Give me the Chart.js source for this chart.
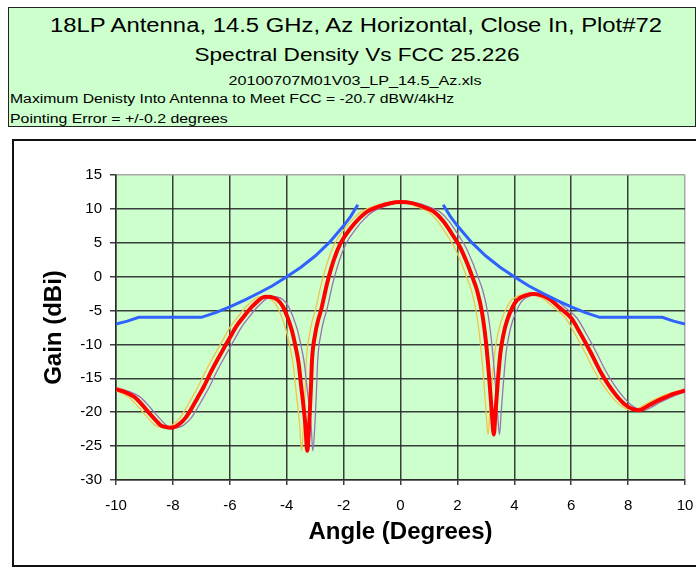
<!DOCTYPE html>
<html>
<head>
<meta charset="utf-8">
<script src="https://cdn.jsdelivr.net/npm/chart.js@4"></script>
<style>
  html, body { margin: 0; padding: 0; background: #fff; width: 696px; height: 569px; overflow: hidden; }
  body { position: relative; font-family: "Liberation Sans", Arial, sans-serif; color: #000; }
  #head { position: absolute; left: 8px; top: 7px; width: 688px; height: 120px; box-sizing: border-box;
          border: 1.5px solid #222; background: #ccffcc; }
  .ln { position: absolute; white-space: nowrap; line-height: 1; }
  .c { transform-origin: 50% 50%; }
  .l { transform-origin: 0 50%; }
  #box { position: absolute; left: 12px; top: 139px; width: 700px; height: 428px; box-sizing: border-box;
         border: 2px solid #111; background: #fff; }
  #cv { position: absolute; left: 0; top: 0; }
</style>
</head>
<body>
<div id="head"></div>
<div class="ln c" style="font-size:19.5px; left:355.5px; top:15.5px; transform: translateX(-50%) scaleX(1.223);">18LP Antenna, 14.5 GHz, Az Horizontal, Close In, Plot#72</div>
<div class="ln c" style="font-size:17.5px; left:357px; top:47.2px; transform: translateX(-50%) scaleX(1.29);">Spectral Density Vs FCC 25.226</div>
<div class="ln c" style="font-size:12px; left:355px; top:74.8px; transform: translateX(-50%) scaleX(1.345);">20100707M01V03_LP_14.5_Az.xls</div>
<div class="ln l" style="font-size:12.5px; left:10px; top:92.7px; transform: scaleX(1.26);">Maximum Denisty Into Antenna to Meet FCC = -20.7 dBW/4kHz</div>
<div class="ln l" style="font-size:13px; left:10px; top:111.7px; transform: scaleX(1.22);">Pointing Error = +/-0.2 degrees</div>
<div id="box"></div>
<canvas id="cv" width="696" height="569"></canvas>
<script>
// Measured pattern, 14.5 GHz azimuth cut
const angleDeg = [
  -10.0, -9.7, -9.37, -9.1, -8.84, -8.6, -8.44, -8.25, -8.08, -7.9,
  -7.73, -7.55, -7.38, -7.15, -6.91, -6.68, -6.44, -6.2, -5.98, -5.75,
  -5.51, -5.28, -5.04, -4.9, -4.75, -4.55, -4.33, -4.15, -3.98, -3.82,
  -3.69, -3.58, -3.49, -3.40, -3.34, -3.28, -3.20, -3.15, -3.11, -3.00,
  -2.90, -2.79, -2.58, -2.34, -2.11, -1.76, -1.45, -1.17, -0.8, -0.4,
  0.0, 0.4, 0.8, 1.17, 1.5, 1.87, 2.1, 2.34, 2.52, 2.69,
  2.87, 3.00, 3.10, 3.20, 3.28, 3.34, 3.42, 3.51, 3.62, 3.75,
  3.95, 4.1, 4.4, 4.7, 5.0, 5.3, 5.6, 6.0, 6.3, 6.7,
  7.0, 7.3, 7.6, 7.9, 8.2, 8.4, 8.6, 8.9, 9.2, 9.6, 10.0
];
const gainDbi = [
  -16.6, -17.0, -17.7, -18.8, -20.1, -21.2, -21.9, -22.2, -22.3, -22.1,
  -21.6, -20.8, -19.7, -18.0, -16.2, -14.2, -12.3, -10.5, -8.85, -7.2,
  -5.9, -4.7, -3.7, -3.2, -2.95, -3.0, -3.4, -4.3, -5.9, -7.9,
  -10.3, -12.8, -16.2, -19.5, -22.1, -25.7, -21.1, -16.5, -12.3, -8.5,
  -6.5, -4.9, -1.0, 2.5, 4.9, 7.1, 8.6, 9.6, 10.3, 10.8,
  11.0, 10.85, 10.3, 9.6, 8.2, 5.9, 4.3, 2.0, 0.0, -2.0,
  -5.4, -9.5, -14.0, -19.5, -23.3, -20.0, -15.5, -11.3, -8.5, -6.4,
  -4.4, -3.45, -2.75, -2.55, -2.8, -3.5, -4.6, -6.1, -8.2, -11.3,
  -13.8, -15.9, -17.6, -18.9, -19.6, -19.7, -19.3, -18.6, -18.0, -17.3, -16.8
];

// FCC 25.226 envelope scaled to the input density limit (gap around boresight)
const maskAngleDeg = [
  -10, -9.6, -9.2, -7.0, -6.5, -6.0, -5.5, -5.0, -4.5, -4.0, -3.5, -3.0, -2.5, -2.0, -1.75, -1.5,
  0,
  1.5, 1.75, 2.0, 2.5, 3.0, 3.5, 4.0, 4.5, 5.0, 5.5, 6.0, 6.5, 7.0, 9.2, 9.6, 10
];
const maskGainDbi = [
  -7.0, -6.56, -6.0, -6.0, -5.3, -4.45, -3.5, -2.45, -1.35, 0.0, 1.4, 3.05, 5.05, 7.5, 8.9, 10.6,
  null,
  10.6, 8.9, 7.5, 5.05, 3.05, 1.4, 0.0, -1.35, -2.45, -3.5, -4.45, -5.3, -6.0, -6.0, -6.56, -7.0
];

// Pointing error applied to the measured pattern
const pointingErrorDeg = 0.2;

const xTicks = [-10, -8, -6, -4, -2, 0, 2, 4, 6, 8, 10];
const yTicks = [15, 10, 5, 0, -5, -10, -15, -20, -25, -30];

const pts = (xs, ys, dx = 0) => xs.map((x, i) => ({ x: x + dx, y: ys[i] }));

const plotBg = {
  id: 'plotBg',
  beforeDraw(chart) {
    const { ctx, chartArea: a } = chart;
    ctx.save();
    ctx.fillStyle = '#ccffcc';
    ctx.fillRect(a.left, a.top, a.right - a.left, a.bottom - a.top);
    ctx.restore();
  }
};

const gridDark = 'rgba(40,40,40,0.9)';
const gridLight = '#a8a8a8';

new Chart(document.getElementById('cv'), {
  type: 'scatter',
  data: {
    datasets: [
      { label: 'FCC 25.226', data: pts(maskAngleDeg, maskGainDbi), showLine: true, spanGaps: false,
        borderColor: '#2f62ff', borderWidth: 3, pointRadius: 0, order: 0 },
      { label: 'Measured', data: pts(angleDeg, gainDbi), showLine: true,
        borderColor: '#ff0000', borderWidth: 4, pointRadius: 0, cubicInterpolationMode: 'monotone', order: 1 },
      { label: '+0.2 deg', data: pts(angleDeg, gainDbi, pointingErrorDeg), showLine: true,
        borderColor: '#9a72b4', borderWidth: 1.3, pointRadius: 0, cubicInterpolationMode: 'monotone', order: 2 },
      { label: '-0.2 deg', data: pts(angleDeg, gainDbi, -pointingErrorDeg), showLine: true,
        borderColor: '#f2c44a', borderWidth: 1.3, pointRadius: 0, cubicInterpolationMode: 'monotone', order: 3 }
    ]
  },
  options: {
    responsive: false,
    animation: false,
    layout: { padding: { left: 0, right: 11, top: 175, bottom: 0 } },
    plugins: { legend: { display: false }, tooltip: { enabled: false }, title: { display: false } },
    scales: {
      x: {
        type: 'linear', min: -10, max: 10,
        afterFit: s => { s.height = 89; s.paddingLeft = 0; s.paddingRight = 0; },
        afterBuildTicks: s => { s.ticks = xTicks.map(v => ({ value: v })); },
        ticks: { color: '#000', font: { family: 'Liberation Sans', size: 15 }, padding: 12, maxRotation: 0 },
        grid: { color: c => (c.tick && c.tick.value === 10 ? gridLight : gridDark), lineWidth: 1.5,
                tickLength: 5, tickColor: gridDark },
        border: { display: true, color: gridDark, width: 1.5 },
        title: { display: true, text: 'Angle (Degrees)', color: '#000',
                 font: { family: 'Liberation Sans', size: 24, weight: 'bold' }, padding: { top: 0, bottom: 22 } }
      },
      y: {
        type: 'linear', min: -30, max: 15,
        afterFit: s => { s.width = 116; s.paddingTop = 0; s.paddingBottom = 0; },
        afterBuildTicks: s => { s.ticks = yTicks.map(v => ({ value: v })); },
        ticks: { color: '#000', font: { family: 'Liberation Sans', size: 15 }, padding: 8 },
        grid: { color: c => (c.tick && c.tick.value === 15 ? gridLight : gridDark), lineWidth: 1.5,
                tickLength: 6, tickColor: gridDark },
        border: { display: true, color: gridDark, width: 1.5 },
        title: { display: true, text: 'Gain (dBi)', color: '#000',
                 font: { family: 'Liberation Sans', size: 24, weight: 'bold' }, padding: { top: 40, bottom: 0 } }
      }
    }
  },
  plugins: [plotBg]
});
</script>
</body>
</html>
